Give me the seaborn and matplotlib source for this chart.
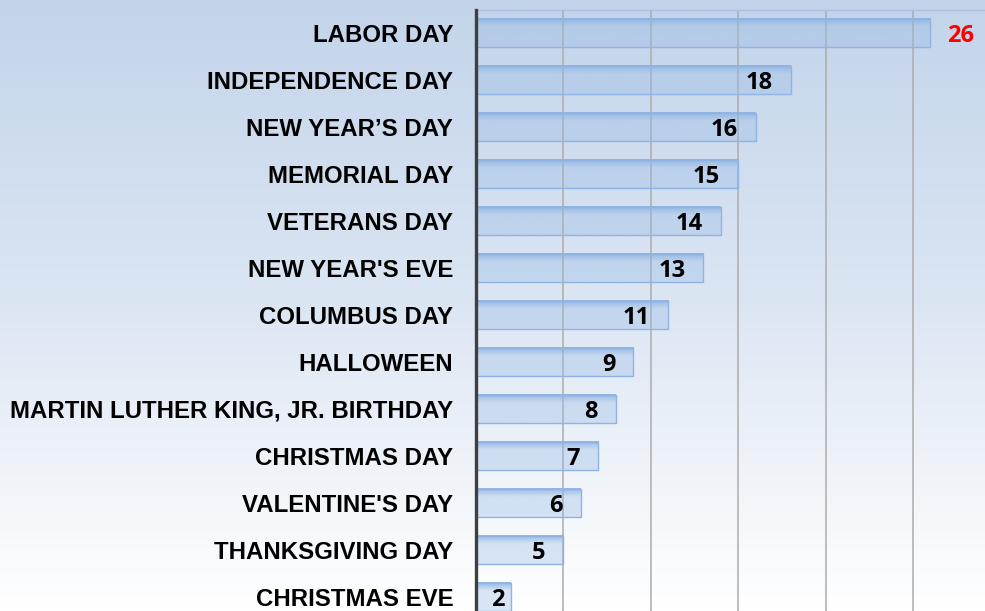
import numpy as np
import pandas as pd
import matplotlib
matplotlib.use("Agg")
import matplotlib.pyplot as plt
import seaborn as sns
from matplotlib.colors import LinearSegmentedColormap
from matplotlib.transforms import offset_copy

holidays = [
    "LABOR DAY", "INDEPENDENCE DAY", "NEW YEAR\u2019S DAY", "MEMORIAL DAY",
    "VETERANS DAY", "NEW YEAR'S EVE", "COLUMBUS DAY", "HALLOWEEN",
    "MARTIN LUTHER KING, JR. BIRTHDAY", "CHRISTMAS DAY", "VALENTINE'S DAY",
    "THANKSGIVING DAY", "CHRISTMAS EVE",
]
counts = [26, 18, 16, 15, 14, 13, 11, 9, 8, 7, 6, 5, 2]

df = pd.DataFrame({"holiday": holidays, "count": counts})

sns.set_theme(style="white")
plt.rcParams["font.family"] = ["Liberation Sans", "DejaVu Sans"]

W, H = 985, 611
fig = plt.figure(figsize=(W / 100, H / 100), dpi=100)

# vertical background gradient behind everything
bg = fig.add_axes([0, 0, 1, 1], zorder=-10)
grad = np.linspace(0, 1, 256).reshape(-1, 1)
bg_cmap = LinearSegmentedColormap.from_list("bg", ["#c3d4ea", "#dce6f3", "#ffffff"])
bg.imshow(grad, aspect="auto", cmap=bg_cmap, extent=[0, 1, 0, 1])
bg.axis("off")

ax = fig.add_axes([476 / W, 0, 1 - 476 / W, 1 - 10 / H])
ax.patch.set_alpha(0)

sns.barplot(data=df, x="count", y="holiday", ax=ax, color="#96b9e6",
            width=0.6, edgecolor="#8eb4e3", linewidth=1, zorder=3)

# gradient fill for each bar (darker band at the top)
n = 64
t = np.linspace(0, 1, n)
top = np.array([141, 179, 226]) / 255
body = np.array([150, 185, 230]) / 255
mix = np.clip(t / 0.3, 0, 1)[:, None]
rgb = top * (1 - mix) + body * mix
alpha = 0.95 * (1 - mix) + 0.35 * mix
img = np.hstack([rgb, alpha]).reshape(n, 1, 4)

for p in list(ax.patches):
    x0, y0, w, h = p.get_x(), p.get_y(), p.get_width(), p.get_height()
    p.set_facecolor("none")
    p.set_edgecolor("#8eb4e3")
    ax.imshow(img, aspect="auto", extent=(x0, x0 + w, y0 + h, y0),
              origin="upper", zorder=2, interpolation="bilinear")

ax.set_xlim(0, (W - 476) / 87.4 * 5)
ax.set_ylim(12.3, -0.49)
ax.set_xticks([5, 10, 15, 20, 25])
ax.set_xticklabels([])
ax.grid(axis="x", color="#acacac", linewidth=1.1, zorder=0)
ax.set_axisbelow(True)
ax.set_xlabel("")
ax.set_ylabel("")

for s in ["right", "bottom"]:
    ax.spines[s].set_visible(False)
ax.spines["top"].set_color("#a9c1e0")
ax.spines["top"].set_linewidth(1)
ax.spines["left"].set_color("#3f3f3f")
ax.spines["left"].set_linewidth(2.4)
ax.spines["left"].set_zorder(5)

ax.tick_params(axis="y", length=0, pad=16.3)
ax.tick_params(axis="x", length=0)
for lab in ax.get_yticklabels():
    lab.set_fontsize(17.3)
    lab.set_fontweight("bold")
    lab.set_color("black")

# value labels
for i, v in enumerate(counts):
    if i == 0:
        tr = offset_copy(ax.transData, fig=fig, x=17, y=-3, units="dots")
        ax.text(v, i, str(v), transform=tr, ha="left", va="center",
                color="#ff0000", fontsize=17, fontweight="bold",
                family=["Open Sans", "DejaVu Sans"], zorder=6)
    else:
        dx = -18 if v > 2 else -6
        tr = offset_copy(ax.transData, fig=fig, x=dx, y=-3, units="dots")
        ax.text(v, i, str(v), transform=tr, ha="right", va="center",
                color="black", fontsize=17, fontweight="bold",
                family=["Open Sans", "DejaVu Sans"], zorder=6)

fig.savefig("out.png", dpi=100)
